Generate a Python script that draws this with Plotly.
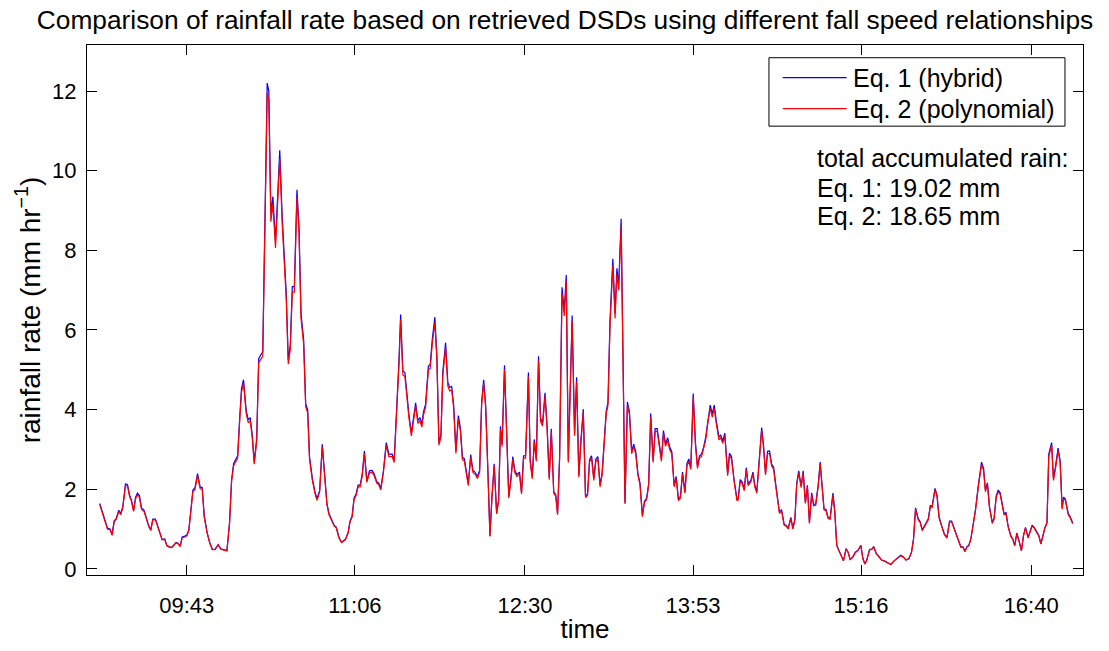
import plotly.graph_objects as go

# ---- data ----
# elapsed minutes after 09:00
MINUTES = [
    0.0, 3.8, 5.1, 6.1, 7.1, 8.1, 9.4, 10.4, 11.4, 12.7, 13.7, 14.7, 15.7, 16.7, 17.7, 18.6, 19.6, 20.6, 21.9, 23.2,
    24.2, 25.2, 26.2, 27.5, 28.8, 29.8, 30.8, 32.1, 33.1, 34.8, 35.7, 37.7, 38.7, 39.7, 40.7, 42.0, 43.0, 44.0, 46.0, 47.0,
    48.3, 49.6, 50.6, 51.6, 53.0, 54.3, 55.6, 56.9, 58.5, 59.8, 61.4, 62.8, 64.1, 65.1, 66.1, 67.1, 68.1, 69.1, 70.0, 71.0,
    72.3, 73.3, 74.3, 75.3, 76.3, 77.5, 78.5, 79.5, 80.5, 82.7, 83.5, 84.5, 85.5, 86.8, 87.8, 88.9, 90.1, 91.1, 92.1, 93.1,
    94.1, 95.1, 96.1, 97.4, 98.4, 99.4, 100.7, 101.7, 102.7, 103.6, 105.0, 106.3, 107.3, 108.6, 109.9, 110.9, 112.2, 113.2, 114.5, 115.8,
    116.8, 118.1, 119.4, 121.3, 122.7, 123.6, 124.6, 125.6, 126.6, 127.6, 128.6, 129.6, 130.7, 131.9, 133.2, 134.5, 135.5, 136.8, 137.8, 138.8,
    140.1, 141.5, 142.8, 144.4, 145.4, 146.8, 147.8, 148.6, 149.7, 150.7, 151.7, 152.7, 153.9, 155.0, 156.0, 157.1, 158.1, 159.1, 159.9, 160.9,
    162.3, 163.2, 164.2, 165.5, 166.5, 167.5, 168.5, 169.4, 170.8, 171.9, 172.8, 173.8, 174.8, 175.9, 177.1, 178.1, 179.1, 180.1, 181.0, 182.0,
    183.2, 184.3, 185.3, 186.5, 187.6, 188.6, 189.6, 190.6, 191.7, 192.7, 193.7, 194.8, 196.0, 197.0, 197.9, 198.7, 199.9, 201.0, 202.0, 203.0,
    204.0, 205.0, 206.0, 207.3, 208.3, 209.3, 210.3, 211.7, 212.6, 213.6, 214.6, 215.6, 216.7, 217.7, 218.7, 219.9, 220.9, 222.0, 223.0, 224.2,
    225.2, 226.1, 227.1, 228.3, 229.4, 230.4, 231.4, 233.3, 234.5, 235.5, 236.6, 237.6, 238.8, 239.9, 240.9, 241.9, 242.9, 244.0, 245.0, 246.0,
    247.1, 248.1, 249.1, 250.1, 251.0, 252.0, 253.4, 254.5, 255.4, 256.3, 257.5, 258.4, 259.4, 260.6, 261.6, 262.7, 263.7, 264.7, 265.8, 266.8,
    268.0, 269.0, 270.1, 271.1, 272.1, 273.3, 274.3, 275.3, 276.4, 277.4, 278.4, 279.4, 280.5, 281.5, 282.5, 283.7, 284.7, 285.8, 286.8, 287.8,
    289.0, 290.0, 290.9, 291.9, 293.1, 294.2, 295.2, 296.2, 297.2, 298.2, 299.2, 300.5, 301.5, 302.5, 303.5, 304.4, 305.8, 306.7, 307.7, 308.7,
    310.1, 311.0, 312.0, 313.3, 314.7, 315.3, 316.3, 317.3, 318.3, 319.3, 320.2, 321.6, 322.6, 323.5, 324.5, 325.5, 326.9, 327.8, 328.8, 329.8,
    330.8, 331.8, 332.8, 333.8, 334.8, 335.7, 336.7, 338.0, 339.0, 340.0, 341.3, 342.3, 343.3, 344.2, 345.2, 346.4, 347.4, 348.5, 349.5, 350.5,
    351.6, 352.6, 353.6, 354.8, 355.8, 356.8, 357.7, 358.7, 359.7, 360.7, 362.1, 363.0, 364.0, 365.0, 366.3, 367.3, 368.6, 369.6, 370.6, 371.9,
    373.2, 374.5, 375.9, 376.9, 377.9, 378.8, 380.2, 381.2, 382.2, 383.5, 384.8, 386.1, 387.4, 389.0, 390.7, 392.3, 394.0, 395.6, 396.9, 398.2,
    399.6, 400.9, 401.9, 402.9, 404.2, 405.2, 406.2, 407.2, 408.2, 409.2, 410.2, 411.1, 412.5, 413.5, 414.5, 415.8, 417.1, 418.4, 419.7, 420.7,
    421.7, 423.0, 424.3, 425.3, 426.3, 427.3, 428.2, 429.2, 430.2, 431.2, 432.5, 433.8, 435.5, 436.5, 437.4, 438.4, 439.4, 440.8, 441.7, 442.7,
    443.7, 444.7, 445.7, 446.6, 447.6, 448.6, 449.9, 450.9, 451.9, 452.9, 454.2, 455.2, 456.2, 457.2, 458.5, 459.5, 460.5, 461.5, 462.5, 463.8,
    464.8, 465.8, 466.8, 467.8, 468.7, 470.1, 471.0, 472.0, 473.3, 474.3, 475.3, 476.0, 476.9, 478.3, 479.3, 480.5,
]

# Eq. 1 (hybrid) rainfall rate, mm/hr
RATE_EQ1 = [
    1.64, 1.02, 1.00, 0.86, 1.20, 1.26, 1.47, 1.39, 1.57, 2.13, 2.12, 1.86, 1.72, 1.47, 1.80, 1.90, 1.84, 1.53, 1.47, 1.23,
    1.08, 0.98, 1.25, 1.25, 1.07, 0.88, 0.74, 0.75, 0.59, 0.54, 0.55, 0.66, 0.64, 0.57, 0.80, 0.82, 0.85, 0.98, 1.98, 2.03,
    2.39, 2.05, 2.04, 1.33, 0.92, 0.66, 0.49, 0.49, 0.61, 0.50, 0.48, 0.46, 1.16, 2.23, 2.64, 2.74, 2.84, 3.78, 4.52, 4.75,
    3.99, 3.74, 3.80, 3.37, 2.68, 3.27, 5.28, 5.37, 5.45, 12.20, 11.99, 8.93, 9.35, 8.22, 9.27, 10.51, 8.85, 7.76, 6.92, 5.24,
    5.62, 7.09, 7.09, 9.52, 8.60, 6.42, 5.75, 4.15, 3.99, 2.81, 2.27, 1.93, 1.76, 1.97, 3.13, 2.48, 1.64, 1.39, 1.24, 1.09,
    1.05, 0.80, 0.67, 0.74, 0.92, 1.20, 1.32, 1.78, 1.88, 2.10, 2.10, 2.37, 2.96, 2.21, 2.46, 2.47, 2.39, 2.19, 2.15, 2.02,
    2.47, 3.17, 2.88, 2.88, 2.72, 4.11, 5.26, 6.39, 4.97, 4.93, 4.36, 3.87, 3.41, 3.78, 4.17, 3.72, 3.80, 3.63, 3.95, 4.13,
    5.09, 5.13, 5.75, 6.32, 5.34, 3.17, 3.37, 4.93, 5.68, 4.68, 4.56, 4.58, 4.11, 2.96, 3.85, 3.54, 2.80, 2.76, 2.47, 2.13,
    2.87, 2.47, 2.43, 2.32, 2.47, 4.19, 4.75, 4.11, 2.47, 0.83, 1.82, 2.64, 1.41, 1.74, 3.58, 3.13, 5.11, 3.62, 1.82, 2.23,
    2.82, 2.47, 2.37, 2.43, 1.92, 2.84, 2.84, 4.93, 2.72, 2.31, 3.25, 2.76, 5.34, 3.78, 3.66, 4.42, 3.62, 2.29, 3.52, 1.94,
    1.86, 1.39, 2.80, 7.07, 6.48, 7.38, 2.72, 6.36, 3.41, 4.81, 2.35, 3.21, 4.01, 1.83, 1.88, 2.74, 2.84, 2.27, 2.76, 2.82,
    2.10, 2.41, 3.13, 3.95, 4.19, 6.24, 7.79, 6.42, 7.55, 7.14, 8.79, 5.01, 1.66, 4.19, 3.95, 2.95, 3.13, 2.95, 2.39, 2.16,
    1.34, 1.69, 1.78, 2.14, 3.90, 2.72, 3.52, 3.52, 3.05, 2.76, 3.47, 3.14, 3.29, 3.05, 2.95, 2.10, 2.32, 1.74, 1.82, 2.43,
    1.94, 2.64, 2.76, 2.55, 4.40, 3.17, 2.57, 2.84, 2.88, 3.05, 3.29, 3.82, 4.11, 3.89, 4.11, 3.74, 3.31, 3.36, 3.21, 3.41,
    2.39, 2.90, 2.82, 2.23, 1.75, 1.77, 2.24, 2.18, 2.00, 2.54, 2.13, 2.23, 2.43, 2.10, 1.94, 2.60, 3.55, 3.12, 2.41, 2.95,
    2.96, 2.63, 2.55, 2.14, 1.82, 1.42, 1.49, 1.12, 1.09, 1.02, 1.29, 1.02, 1.24, 2.14, 2.46, 2.08, 2.46, 1.67, 2.10, 1.16,
    1.91, 1.61, 1.63, 2.10, 2.68, 2.06, 1.51, 1.49, 1.29, 1.27, 1.90, 1.45, 0.59, 0.47, 0.33, 0.20, 0.51, 0.42, 0.23, 0.30,
    0.42, 0.47, 0.59, 0.26, 0.12, 0.22, 0.49, 0.49, 0.56, 0.39, 0.31, 0.22, 0.20, 0.16, 0.11, 0.20, 0.28, 0.34, 0.30, 0.22,
    0.26, 0.42, 0.75, 1.53, 1.26, 1.18, 0.98, 1.06, 1.16, 1.26, 1.59, 1.57, 2.02, 1.86, 1.31, 1.08, 0.88, 0.79, 1.20, 1.20,
    1.06, 0.88, 0.67, 0.55, 0.55, 0.44, 0.55, 0.59, 0.75, 1.08, 1.49, 2.06, 2.68, 2.52, 1.98, 2.16, 1.57, 1.16, 1.28, 1.82,
    1.98, 1.91, 1.67, 1.39, 1.41, 1.08, 0.84, 0.75, 0.59, 0.90, 0.67, 0.46, 0.84, 1.04, 0.79, 0.92, 1.10, 1.04, 0.96, 0.84,
    0.63, 0.84, 1.04, 1.16, 2.88, 3.17, 2.27, 2.56, 3.03, 2.72, 1.53, 1.80, 1.75, 1.39, 1.31, 1.15,
]

# Eq. 2 (polynomial) rainfall rate, mm/hr
RATE_EQ2 = [
    1.61, 1.00, 0.98, 0.84, 1.18, 1.24, 1.44, 1.36, 1.54, 2.09, 2.08, 1.82, 1.69, 1.44, 1.76, 1.86, 1.80, 1.50, 1.44, 1.21,
    1.06, 0.96, 1.23, 1.23, 1.05, 0.86, 0.73, 0.74, 0.58, 0.53, 0.54, 0.65, 0.63, 0.56, 0.78, 0.80, 0.83, 0.96, 1.94, 1.99,
    2.34, 2.01, 2.00, 1.30, 0.90, 0.65, 0.48, 0.48, 0.60, 0.49, 0.47, 0.45, 1.14, 2.19, 2.59, 2.69, 2.78, 3.70, 4.43, 4.66,
    3.91, 3.67, 3.72, 3.30, 2.63, 3.20, 5.17, 5.26, 5.34, 11.96, 11.75, 8.72, 9.16, 8.06, 9.08, 10.30, 8.67, 7.60, 6.78, 5.14,
    5.51, 6.95, 6.95, 9.33, 8.43, 6.29, 5.64, 4.07, 3.91, 2.75, 2.22, 1.89, 1.72, 1.93, 3.07, 2.43, 1.61, 1.36, 1.22, 1.07,
    1.03, 0.78, 0.66, 0.73, 0.90, 1.18, 1.29, 1.74, 1.84, 2.06, 2.06, 2.32, 2.90, 2.17, 2.41, 2.42, 2.34, 2.15, 2.11, 1.98,
    2.42, 3.11, 2.82, 2.82, 2.67, 4.03, 5.15, 6.26, 4.87, 4.83, 4.27, 3.79, 3.34, 3.70, 4.09, 3.65, 3.72, 3.56, 3.87, 4.05,
    4.99, 5.03, 5.64, 6.19, 5.23, 3.11, 3.30, 4.83, 5.57, 4.59, 4.47, 4.49, 4.03, 2.90, 3.77, 3.47, 2.74, 2.70, 2.42, 2.09,
    2.81, 2.42, 2.38, 2.27, 2.42, 4.11, 4.66, 4.03, 2.42, 0.81, 1.78, 2.59, 1.38, 1.71, 3.51, 3.07, 5.01, 3.55, 1.78, 2.19,
    2.76, 2.42, 2.32, 2.38, 1.88, 2.78, 2.78, 4.83, 2.67, 2.26, 3.19, 2.70, 5.23, 3.70, 3.59, 4.33, 3.55, 2.24, 3.45, 1.90,
    1.82, 1.36, 2.74, 6.93, 6.35, 7.23, 2.67, 6.23, 3.34, 4.71, 2.30, 3.15, 3.93, 1.79, 1.84, 2.69, 2.78, 2.22, 2.70, 2.76,
    2.06, 2.36, 3.07, 3.87, 4.11, 6.12, 7.63, 6.29, 7.40, 7.00, 8.61, 4.91, 1.63, 4.11, 3.87, 2.89, 3.07, 2.89, 2.34, 2.12,
    1.31, 1.66, 1.74, 2.10, 3.82, 2.67, 3.45, 3.45, 2.99, 2.70, 3.40, 3.08, 3.22, 2.99, 2.89, 2.06, 2.27, 1.71, 1.78, 2.38,
    1.90, 2.59, 2.70, 2.50, 4.31, 3.11, 2.52, 2.78, 2.82, 2.99, 3.22, 3.74, 4.03, 3.81, 4.03, 3.67, 3.24, 3.29, 3.15, 3.34,
    2.34, 2.84, 2.76, 2.19, 1.72, 1.73, 2.20, 2.14, 1.96, 2.49, 2.09, 2.19, 2.38, 2.06, 1.90, 2.55, 3.48, 3.06, 2.36, 2.89,
    2.90, 2.58, 2.50, 2.10, 1.78, 1.39, 1.46, 1.10, 1.07, 1.00, 1.26, 1.00, 1.22, 2.10, 2.41, 2.04, 2.41, 1.64, 2.06, 1.14,
    1.87, 1.58, 1.60, 2.06, 2.63, 2.02, 1.48, 1.46, 1.26, 1.24, 1.86, 1.42, 0.58, 0.46, 0.32, 0.20, 0.50, 0.41, 0.23, 0.29,
    0.41, 0.46, 0.58, 0.25, 0.12, 0.22, 0.48, 0.48, 0.55, 0.38, 0.30, 0.22, 0.20, 0.16, 0.11, 0.20, 0.27, 0.33, 0.29, 0.22,
    0.25, 0.41, 0.74, 1.50, 1.23, 1.16, 0.96, 1.04, 1.14, 1.23, 1.56, 1.54, 1.98, 1.82, 1.28, 1.06, 0.86, 0.77, 1.18, 1.18,
    1.04, 0.86, 0.66, 0.54, 0.54, 0.43, 0.54, 0.58, 0.74, 1.06, 1.46, 2.02, 2.63, 2.47, 1.94, 2.12, 1.54, 1.14, 1.25, 1.78,
    1.94, 1.87, 1.64, 1.36, 1.38, 1.06, 0.82, 0.74, 0.58, 0.88, 0.66, 0.45, 0.82, 1.02, 0.77, 0.90, 1.08, 1.02, 0.94, 0.82,
    0.62, 0.82, 1.02, 1.14, 2.82, 3.11, 2.22, 2.51, 2.97, 2.67, 1.50, 1.76, 1.72, 1.36, 1.28, 1.13,
]

START_MIN = 9 * 60  # series start, minutes after midnight
TICK_LABELS = ["09:43", "11:06", "12:30", "13:53", "15:16", "16:40"]
Y_TICKS = [0, 2, 4, 6, 8, 10, 12]
SERIES_NAMES = ["Eq. 1 (hybrid)", "Eq. 2 (polynomial)"]
SERIES_COLORS = ["rgb(0,0,255)", "rgb(255,0,0)"]
TOTAL_HEADER = "total accumulated rain:"
TOTALS = [("Eq. 1", "19.02 mm"), ("Eq. 2", "18.65 mm")]

x_vals = [START_MIN + m for m in MINUTES]
tick_vals = [int(s[:2]) * 60 + int(s[3:]) for s in TICK_LABELS]

FONT = "Liberation Sans, Arial, Helvetica, sans-serif"
FS_TICK = 22
FS_TEXT = 25
BLACK = "black"

fig = go.Figure()
for name, ys, col in zip(SERIES_NAMES, [RATE_EQ1, RATE_EQ2], SERIES_COLORS):
    fig.add_trace(go.Scatter(x=x_vals, y=ys, mode="lines", name=name,
                             line=dict(color=col, width=1.2), showlegend=False))

axis_common = dict(showline=True, linecolor=BLACK, linewidth=1, mirror="allticks",
                   ticks="inside", ticklen=10, tickwidth=1, tickcolor=BLACK,
                   showgrid=False, zeroline=False,
                   tickfont=dict(family=FONT, size=FS_TICK, color=BLACK))

fig.update_xaxes(range=[533.7, 1025.6], tickmode="array", tickvals=tick_vals, ticktext=TICK_LABELS,
                 title=dict(text="time", font=dict(family=FONT, size=26, color=BLACK), standoff=2),
                 ticklabelstandoff=11, **axis_common)
fig.update_yaxes(range=[-0.155, 13.156], tickmode="array", tickvals=Y_TICKS,
                 title=dict(text="rainfall rate (mm hr<sup>\u22121</sup>)",
                            font=dict(family=FONT, size=28, color=BLACK), standoff=3),
                 ticklabelstandoff=5, **axis_common)

# ---- legend box drawn in paper coordinates (MATLAB style, long line samples) ----
L_X0, L_X1, L_Y0, L_Y1 = 0.6847, 0.9819, 0.8469, 0.976
ROW_Y = [0.9386, 0.8801]
fig.add_shape(type="rect", xref="paper", yref="paper", x0=L_X0, x1=L_X1, y0=L_Y0, y1=L_Y1,
              line=dict(color=BLACK, width=1), fillcolor="white", layer="above")
for name, col, ry in zip(SERIES_NAMES, SERIES_COLORS, ROW_Y):
    fig.add_shape(type="line", xref="paper", yref="paper", x0=0.6985, x1=0.7627, y0=ry, y1=ry,
                  line=dict(color=col, width=1.2), layer="above")
    fig.add_annotation(xref="paper", yref="paper", x=0.767, y=ry, xanchor="left", yanchor="middle",
                       showarrow=False, text=name, font=dict(family=FONT, size=FS_TEXT, color=BLACK))

# ---- accumulated totals text ----
lines = [TOTAL_HEADER] + [f"{k}: {v}" for k, v in TOTALS]
for txt, yy in zip(lines, [0.786, 0.7306, 0.6771]):
    fig.add_annotation(xref="paper", yref="paper", x=0.731, y=yy, xanchor="left", yanchor="middle",
                       showarrow=False, text=txt, font=dict(family=FONT, size=FS_TEXT, color=BLACK))

fig.update_layout(
    width=1109, height=651,
    margin=dict(l=87, r=26, t=45, b=64),
    paper_bgcolor="white", plot_bgcolor="white",
    title=dict(text="Comparison of rainfall rate based on retrieved DSDs using different fall speed relationships",
               x=565 / 1109, xref="container", xanchor="center",
               y=1 - 20 / 651, yref="container", yanchor="middle",
               font=dict(family=FONT, size=26.3, color=BLACK)),
    showlegend=False,
)

fig.write_html("out.html")
